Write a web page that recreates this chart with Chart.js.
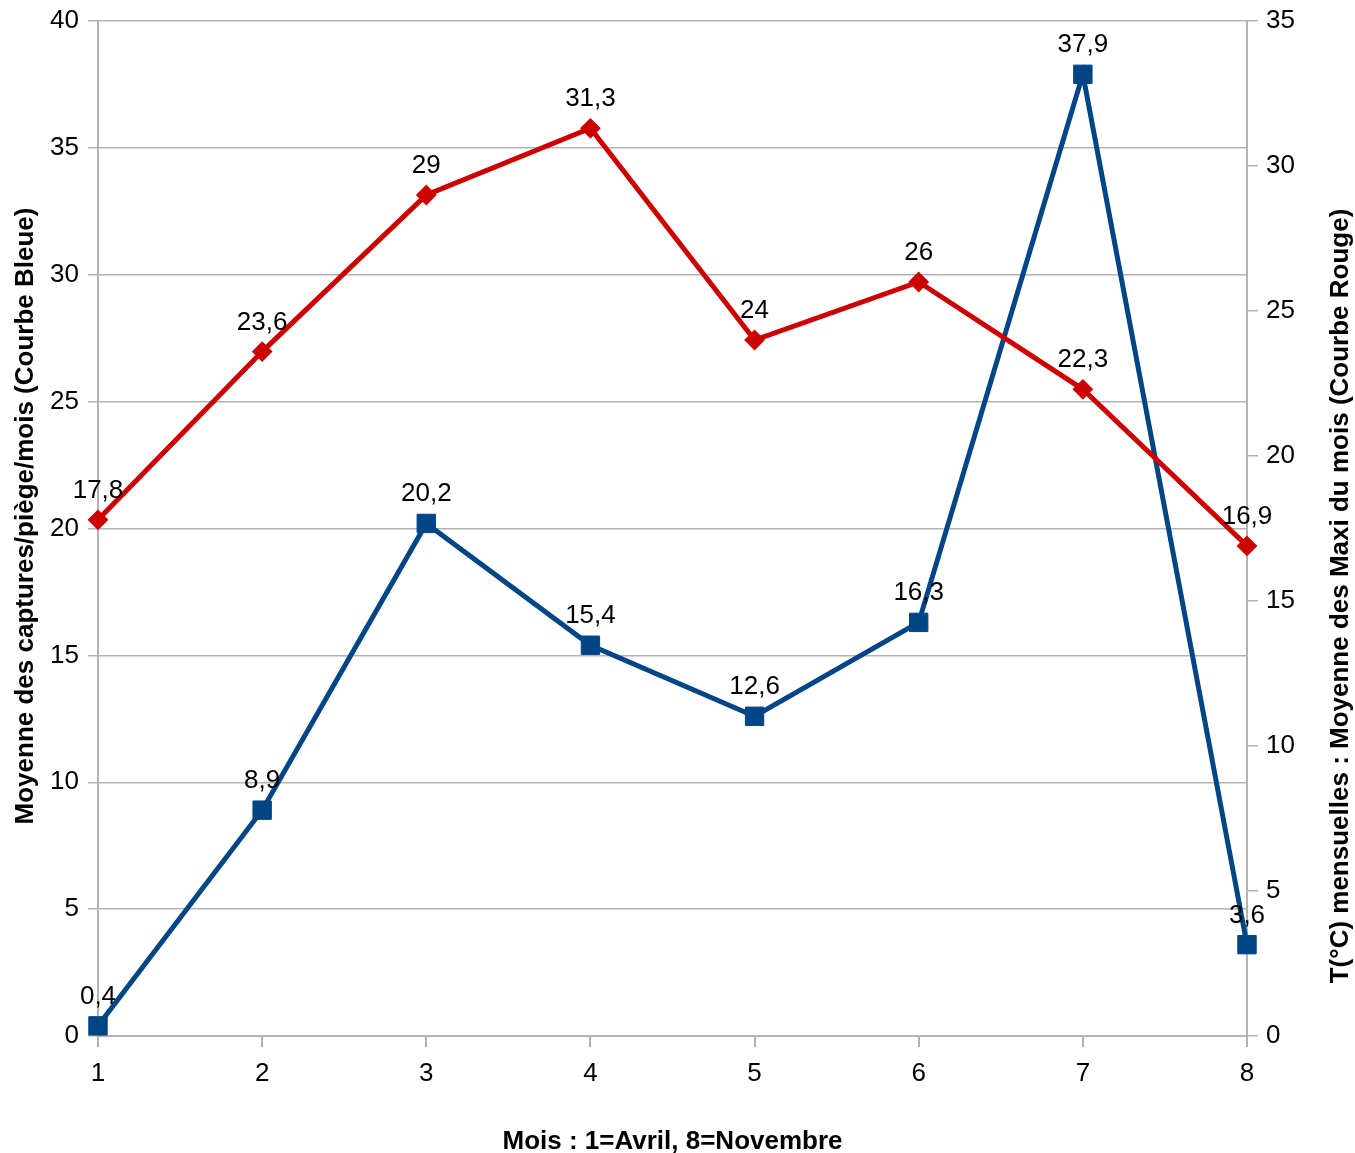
<!DOCTYPE html>
<html>
<head>
<meta charset="utf-8">
<script src="https://cdn.jsdelivr.net/npm/chart.js@4.4.1/dist/chart.umd.min.js"></script>
<style>
  html, body { margin: 0; padding: 0; background: #ffffff; }
  #wrap { width: 1355px; height: 1153px; position: relative; }
</style>
</head>
<body>
<div id="wrap"><canvas id="c" width="1355" height="1153"></canvas></div>
<script>
// ---- Data ----
const months = ['1', '2', '3', '4', '5', '6', '7', '8'];
const captures = [0.4, 8.9, 20.2, 15.4, 12.6, 16.3, 37.9, 3.6];
const tempMax = [17.8, 23.6, 29, 31.3, 24, 26, 22.3, 16.9];
const leftAxis = { min: 0, max: 40, step: 5 };
const rightAxis = { min: 0, max: 35, step: 5 };
const xTitle = 'Mois : 1=Avril, 8=Novembre';
const leftTitle = 'Moyenne des captures/piège/mois (Courbe Bleue)';
const rightTitle = 'T(°C) mensuelles : Moyenne des Maxi du mois (Courbe Rouge)';

const FONT = "'Liberation Sans', Arial, sans-serif";
const GRID = '#b3b3b3';
const BLUE = '#004586';
const RED = '#cc0000';
const FS = 26;

const fmt = v => String(v).replace('.', ',');

const labelPlugin = {
  id: 'pointLabels',
  afterDatasetsDraw(chart) {
    const ctx = chart.ctx;
    ctx.save();
    ctx.font = FS + 'px ' + FONT;
    ctx.fillStyle = '#000000';
    ctx.textAlign = 'center';
    ctx.textBaseline = 'alphabetic';
    chart.data.datasets.forEach((ds, i) => {
      const meta = chart.getDatasetMeta(i);
      meta.data.forEach((pt, j) => {
        ctx.fillText(fmt(ds.data[j]), pt.x, pt.y - 22);
      });
    });
    ctx.restore();
  }
};

function drawVertical(ctx, text, x, y) {
  ctx.save();
  ctx.font = 'bold ' + FS + 'px ' + FONT;
  ctx.fillStyle = '#000000';
  ctx.textAlign = 'center';
  ctx.textBaseline = 'middle';
  ctx.translate(x, y);
  ctx.rotate(-Math.PI / 2);
  ctx.fillText(text, 0, 0);
  ctx.restore();
}

const titlePlugin = {
  id: 'yTitles',
  afterDraw(chart) {
    drawVertical(chart.ctx, leftTitle, 26, 516);
    drawVertical(chart.ctx, rightTitle, 1341, 596);
  }
};

new Chart(document.getElementById('c'), {
  type: 'line',
  data: {
    labels: months,
    datasets: [
      {
        label: 'Captures',
        data: captures,
        yAxisID: 'y',
        borderColor: BLUE,
        backgroundColor: BLUE,
        borderWidth: 5,
        pointStyle: 'rect',
        pointRadius: 13,
        pointBorderWidth: 1,
        pointBackgroundColor: BLUE,
        pointBorderColor: BLUE,
        tension: 0,
        fill: false,
        order: 1
      },
      {
        label: 'Température',
        data: tempMax,
        yAxisID: 'y1',
        borderColor: RED,
        backgroundColor: RED,
        borderWidth: 5,
        pointStyle: 'rectRot',
        pointRadius: 9,
        pointBorderWidth: 2,
        pointBackgroundColor: RED,
        pointBorderColor: RED,
        tension: 0,
        fill: false,
        order: 0
      }
    ]
  },
  options: {
    responsive: false,
    animation: false,
    devicePixelRatio: 1,
    layout: { padding: { top: 21, left: 0, right: 0, bottom: 0 } },
    plugins: {
      legend: { display: false },
      tooltip: { enabled: false }
    },
    scales: {
      x: {
        type: 'category',
        offset: false,
        grid: { drawOnChartArea: false, drawTicks: true, tickLength: 11, color: GRID, lineWidth: 2 },
        border: { display: true, color: GRID, width: 2 },
        ticks: { color: '#000', font: { family: FONT, size: FS }, padding: 11, maxRotation: 0 },
        title: {
          display: true, text: xTitle, color: '#000',
          font: { family: FONT, size: FS, weight: 'bold', lineHeight: 0.85 },
          padding: { top: 0, bottom: 0 }
        },
        afterFit(s) { s.height = 117; s.paddingLeft = 0; s.paddingRight = 0; }
      },
      y: {
        position: 'left',
        min: leftAxis.min, max: leftAxis.max,
        grid: { color: GRID, tickLength: 10, lineWidth: 1.5 },
        border: { display: true, color: GRID, width: 2 },
        ticks: { stepSize: leftAxis.step, color: '#000', font: { family: FONT, size: FS }, padding: 9 },
        title: { display: false },
        afterFit(s) { s.width = 98; s.paddingTop = 0; s.paddingBottom = 0; }
      },
      y1: {
        position: 'right',
        min: rightAxis.min, max: rightAxis.max,
        grid: { drawOnChartArea: false, color: GRID, tickLength: 11, lineWidth: 1.5 },
        border: { display: true, color: GRID, width: 2 },
        ticks: { stepSize: rightAxis.step, color: '#000', font: { family: FONT, size: FS }, padding: 8 },
        title: { display: false },
        afterFit(s) { s.width = 108; s.paddingTop = 0; s.paddingBottom = 0; }
      }
    }
  },
  plugins: [labelPlugin, titlePlugin]
});
</script>
</body>
</html>
